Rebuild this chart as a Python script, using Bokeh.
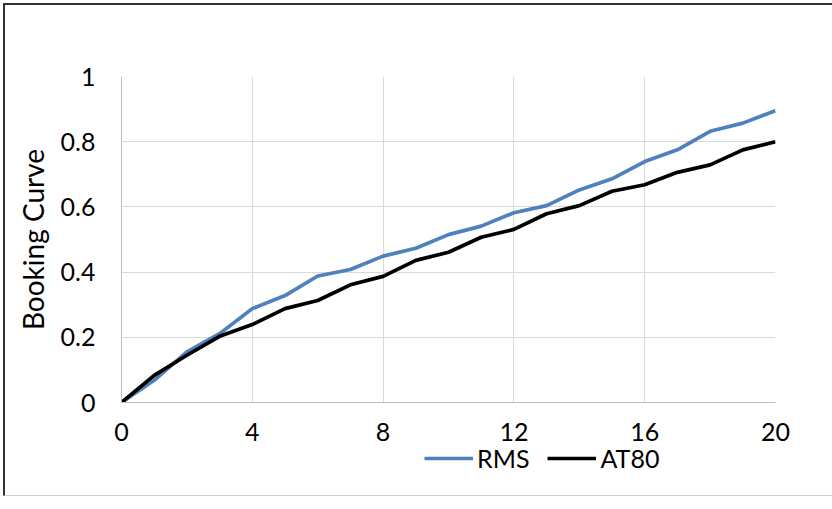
from bokeh.plotting import figure
from bokeh.layouts import column
from bokeh.models import FixedTicker, NumeralTickFormatter, Legend, LegendItem, Range1d
from bokeh.embed import file_html
from bokeh.resources import INLINE

days = list(range(0, 21))
rms = [0.0, 0.068, 0.155, 0.211, 0.288, 0.328, 0.388, 0.408, 0.449, 0.473, 0.515,
       0.541, 0.582, 0.604, 0.652, 0.686, 0.739, 0.775, 0.832, 0.857, 0.895]
at80 = [0.0, 0.083, 0.145, 0.203, 0.239, 0.288, 0.313, 0.361, 0.387, 0.436, 0.461,
        0.507, 0.531, 0.579, 0.604, 0.648, 0.668, 0.706, 0.729, 0.775, 0.800]
x_ticks = [0, 4, 8, 12, 16, 20]
y_ticks = [0, 0.2, 0.4, 0.6, 0.8, 1.0]
series_names = ["RMS", "AT80"]
series_colors = ["#4F81BD", "#000000"]

FONT = "Lato"

p = figure(frame_width=654, frame_height=326, output_backend="svg", toolbar_location=None,
           x_range=Range1d(0, 20), y_range=Range1d(0, 1),
           min_border_left=116, min_border_right=57, min_border_top=71, min_border_bottom=0)
p.outline_line_color = None
p.background_fill_color = "white"
p.border_fill_color = "white"

p.line(days, rms, line_color=series_colors[0], line_width=3.7)
p.line(days, at80, line_color=series_colors[1], line_width=3.7)

for ax in (p.xaxis[0], p.yaxis[0]):
    ax.axis_line_color = "#BFBFBF"
    ax.axis_line_width = 1
    ax.major_tick_line_color = None
    ax.minor_tick_line_color = None
    ax.major_tick_out = 0
    ax.major_tick_in = 0
    ax.minor_tick_out = 0
    ax.minor_tick_in = 0
    ax.major_label_text_font = FONT
    ax.major_label_text_font_size = "25px"
    ax.major_label_text_color = "#000000"

p.xaxis.ticker = FixedTicker(ticks=x_ticks)
p.yaxis.ticker = FixedTicker(ticks=y_ticks)
p.xaxis.formatter = NumeralTickFormatter(format="0")
p.yaxis.formatter = NumeralTickFormatter(format="0.[0]")
p.xaxis.major_label_standoff = 20
p.yaxis.major_label_standoff = 26

p.yaxis.axis_label = "Booking Curve"
p.yaxis.axis_label_text_font = FONT
p.yaxis.axis_label_text_font_size = "28px"
p.yaxis.axis_label_text_font_style = "normal"
p.yaxis.axis_label_text_color = "#000000"
p.yaxis.axis_label_standoff = 8

p.xgrid.ticker = FixedTicker(ticks=x_ticks)
p.ygrid.ticker = FixedTicker(ticks=y_ticks)
p.grid.grid_line_color = "#D9D9D9"
p.grid.grid_line_width = 1

# legend strip below the chart
leg = figure(width=827, height=52, output_backend="svg", toolbar_location=None,
             x_range=Range1d(0, 20), y_range=Range1d(0, 1),
             x_axis_type=None, y_axis_type=None, min_border=0)
leg.outline_line_color = None
leg.grid.visible = False
leg.background_fill_color = "white"
leg.border_fill_color = "white"
l1 = leg.line(days, rms, line_color=series_colors[0], line_width=3.7, visible=False)
l2 = leg.line(days, at80, line_color=series_colors[1], line_width=3.7, visible=False)

legend = Legend(items=[LegendItem(label=series_names[0], renderers=[l1]),
                       LegendItem(label=series_names[1], renderers=[l2])],
                orientation="horizontal", location=(303, 22),
                label_text_font=FONT, label_text_font_size="25px",
                label_text_color="#000000",
                glyph_width=49, glyph_height=28, label_standoff=4, spacing=18,
                padding=0, margin=0, border_line_color=None,
                background_fill_alpha=0)
leg.add_layout(legend, "center")

layout = column(p, leg, spacing=0,
                styles={"margin-left": "3px", "margin-top": "3px",
                        "border-left": "2px solid #333333", "border-top": "2px solid #333333",
                        "border-bottom": "1px solid #d0d0d0"})

open("out.html", "w").write(file_html(layout, INLINE))
